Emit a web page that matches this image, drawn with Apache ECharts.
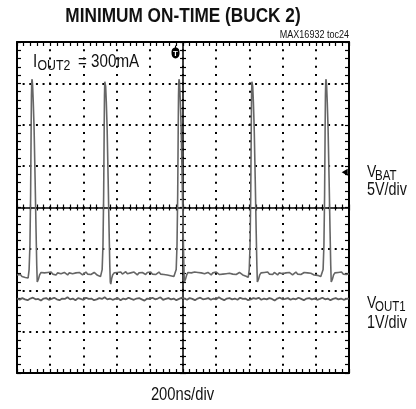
<!DOCTYPE html>
<html><head><meta charset="utf-8">
<script src="https://cdn.jsdelivr.net/npm/echarts@6/dist/echarts.min.js"></script>
<style>html,body{margin:0;padding:0;background:#fff}#c{width:416px;height:409px}</style>
</head><body><div id="c"></div>
<script>
// ---- axis ranges (time in ns, 200 ns/div; vertical in divisions, centre = 0) ----
const xMinNs = -1000, xMaxNs = 1000, nsPerDiv = 200;
const yMinDiv = -4, yMaxDiv = 4;

// ---- texts ----
const titleText = 'MINIMUM ON-TIME (BUCK 2)';
const tocText = 'MAX16932 toc24';
const timebaseText = '200ns/div';

// ---- VBAT / switching trace: [time ns, divisions] ----
const vbatTrace = [
 [-1000,-1.63],[-990,-1.66],[-980,-1.62],[-970,-1.67],[-960,-1.64],[-950,-1.69],[-940,-1.66],[-933,-1.70],
 [-930,-1.66],[-927,-1.5],[-922,-0.9],[-918,0.3],[-915,1.8],[-913,2.7],[-911,3.05],[-909,3.1],[-906,2.95],[-902,2.55],[-897,1.9],[-891,0.7],[-885,-0.6],[-881,-1.4],[-878,-1.8],[-875,-1.84],[-870,-1.72],[-864,-1.63],
 [-855,-1.57],[-845,-1.61],[-835,-1.58],[-825,-1.62],[-815,-1.57],[-805,-1.60],[-795,-1.56],[-785,-1.61],[-775,-1.58],[-765,-1.63],[-755,-1.58],[-745,-1.55],[-735,-1.60],[-725,-1.62],[-715,-1.57],[-705,-1.60],[-695,-1.63],[-685,-1.58],[-675,-1.55],[-665,-1.60],[-655,-1.62],[-645,-1.58],[-635,-1.61],[-625,-1.57],[-615,-1.60],[-605,-1.63],[-595,-1.59],[-585,-1.56],[-575,-1.61],[-565,-1.58],[-555,-1.62],[-545,-1.60],[-535,-1.57],[-525,-1.61],[-515,-1.64],[-505,-1.62],[-497,-1.67],[-493,-1.69],
 [-490,-1.66],[-487,-1.5],[-482,-0.9],[-478,0.3],[-475,1.8],[-473,2.7],[-471,3.04],[-469,3.08],[-466,2.93],[-462,2.55],[-457,1.9],[-451,0.7],[-445,-0.6],[-441,-1.4],[-438,-1.8],[-435,-1.85],[-430,-1.72],[-424,-1.63],
 [-415,-1.58],[-405,-1.62],[-395,-1.57],[-385,-1.60],[-375,-1.56],[-365,-1.61],[-355,-1.59],[-345,-1.55],[-335,-1.60],[-325,-1.62],[-315,-1.58],[-305,-1.61],[-295,-1.56],[-285,-1.60],[-275,-1.63],[-265,-1.58],[-255,-1.61],[-245,-1.57],[-235,-1.59],[-225,-1.62],[-215,-1.57],[-205,-1.60],[-195,-1.56],[-185,-1.61],[-175,-1.58],[-165,-1.62],[-155,-1.59],[-145,-1.56],[-135,-1.61],[-125,-1.58],[-115,-1.62],[-105,-1.60],[-95,-1.63],[-85,-1.61],[-75,-1.65],[-65,-1.63],[-55,-1.67],[-47,-1.69],
 [-44,-1.66],[-41,-1.5],[-36,-0.9],[-32,0.3],[-29,1.8],[-27,2.7],[-25,3.05],[-23,3.1],[-20,2.95],[-16,2.55],[-11,1.9],[-5,0.7],[1,-0.6],[5,-1.4],[8,-1.8],[11,-1.83],[16,-1.72],[22,-1.63],
 [30,-1.57],[40,-1.61],[50,-1.58],[60,-1.62],[70,-1.56],[80,-1.60],[90,-1.57],[100,-1.61],[110,-1.58],[120,-1.55],[130,-1.60],[140,-1.62],[150,-1.57],[160,-1.60],[170,-1.63],[180,-1.58],[190,-1.61],[200,-1.56],[210,-1.60],[220,-1.62],[230,-1.58],[240,-1.61],[250,-1.57],[260,-1.60],[270,-1.63],[280,-1.59],[290,-1.56],[300,-1.61],[310,-1.58],[320,-1.62],[330,-1.60],[340,-1.57],[350,-1.61],[360,-1.63],[370,-1.62],[380,-1.66],[389,-1.68],[393,-1.69],
 [396,-1.66],[399,-1.5],[404,-0.9],[408,0.3],[411,1.8],[413,2.7],[415,3.04],[417,3.08],[420,2.93],[424,2.55],[429,1.9],[435,0.7],[441,-0.6],[445,-1.4],[448,-1.8],[451,-1.84],[456,-1.72],[462,-1.63],
 [470,-1.58],[480,-1.62],[490,-1.57],[500,-1.60],[510,-1.56],[520,-1.61],[530,-1.58],[540,-1.62],[550,-1.57],[560,-1.60],[570,-1.63],[580,-1.58],[590,-1.55],[600,-1.60],[610,-1.62],[620,-1.58],[630,-1.61],[640,-1.57],[650,-1.60],[660,-1.63],[670,-1.59],[680,-1.56],[690,-1.61],[700,-1.58],[710,-1.62],[720,-1.60],[730,-1.57],[740,-1.61],[750,-1.58],[760,-1.62],[770,-1.59],[780,-1.61],[790,-1.63],[800,-1.61],[810,-1.64],[820,-1.63],[830,-1.67],[838,-1.69],
 [841,-1.66],[844,-1.5],[849,-0.9],[853,0.3],[856,1.8],[858,2.7],[860,3.05],[862,3.1],[865,2.95],[869,2.55],[874,1.9],[880,0.7],[886,-0.6],[890,-1.4],[893,-1.8],[896,-1.83],[901,-1.72],[907,-1.63],
 [915,-1.58],[925,-1.62],[935,-1.57],[945,-1.60],[955,-1.56],[965,-1.61],[975,-1.58],[985,-1.62],[995,-1.59],[1000,-1.60]
];

// ---- VOUT1 trace: samples every 16 ns starting at -1000 ns (divisions) ----
const vout1StartNs = -1000, vout1StepNs = 16;
const vout1Values = [
 -2.20,-2.23,-2.19,-2.22,-2.24,-2.20,-2.18,-2.22,-2.21,-2.25,-2.20,-2.19,-2.23,-2.21,-2.18,-2.22,-2.24,-2.20,-2.21,-2.17,
 -2.22,-2.20,-2.24,-2.19,-2.21,-2.23,-2.18,-2.21,-2.20,-2.24,-2.22,-2.19,-2.21,-2.17,-2.22,-2.20,-2.23,-2.21,-2.19,-2.24,
 -2.20,-2.22,-2.18,-2.21,-2.23,-2.20,-2.19,-2.22,-2.25,-2.20,-2.21,-2.18,-2.22,-2.20,-2.17,-2.23,-2.21,-2.19,-2.22,-2.20,
 -2.24,-2.21,-2.18,-2.20,-2.23,-2.19,-2.21,-2.24,-2.20,-2.18,-2.22,-2.21,-2.19,-2.23,-2.20,-2.22,-2.17,-2.21,-2.24,-2.20,
 -2.19,-2.22,-2.20,-2.23,-2.18,-2.21,-2.20,-2.24,-2.22,-2.19,-2.21,-2.18,-2.23,-2.20,-2.22,-2.19,-2.21,-2.25,-2.20,-2.18,
 -2.22,-2.21,-2.19,-2.23,-2.20,-2.22,-2.18,-2.21,-2.24,-2.20,-2.19,-2.22,-2.20,-2.23,-2.21,-2.18,-2.22,-2.20,-2.24,-2.21,
 -2.19,-2.22,-2.20,-2.23,-2.21,-2.20
];

// ---- markers (trigger point, VBAT ground reference) ----
const triggerMarker = [-45, 3.76];
const vbatGroundMarker = [974, 0.85];

const FONT = '"Liberation Sans", Arial, sans-serif';
const NARROW = 0.82;

const vout1Trace = vout1Values.map((v, i) => [vout1StartNs + i * vout1StepNs, v]);

// plot rectangle (screen px) and derived helper grids for the frame / centre cross
const PL = 17, PT = 42, PW = 332, PH = 331;
const grids = [
  { left: PL, top: PT, width: PW, height: PH },            // 0 main
  { left: PL, top: 0, width: PW, height: PT },              // 1 top border (axis on its bottom edge)
  { left: PL + PW, top: PT, width: 40, height: PH },        // 2 right border (axis on its left edge)
  { left: PL, top: PT, width: PW, height: PH / 2 },         // 3 centre horizontal
  { left: PL, top: PT, width: PW, height: PH / 2 },         // 4 centre horizontal (downward ticks)
  { left: PL + PW / 2, top: PT, width: PW / 2, height: PH },// 5 centre vertical
  { left: PL + PW / 2, top: PT, width: PW / 2, height: PH } // 6 centre vertical (rightward ticks)
];

const tickStyle = { color: '#000', width: 1.2 };
const lineBorder = { show: true, onZero: false, lineStyle: { color: '#000', width: 2 } };
const lineCentre = { show: true, onZero: false, lineStyle: { color: '#000', width: 1.5 } };
const lineNone = { show: false, onZero: false };

function ticks(inside, len) { return { show: true, inside: inside, length: len, lineStyle: tickStyle }; }
function minor(len) { return { show: true, splitNumber: 5, length: len, lineStyle: tickStyle }; }

function xAx(g, axisLine, inside, len, extra) {
  return Object.assign({
    type: 'value', gridIndex: g, position: 'bottom', min: xMinNs, max: xMaxNs, interval: nsPerDiv,
    axisLabel: { show: false }, splitLine: { show: false },
    axisLine: axisLine, axisTick: ticks(inside, len), minorTick: minor(len)
  }, extra || {});
}
function yAx(g, axisLine, inside, len, extra) {
  return Object.assign({
    type: 'value', gridIndex: g, position: 'left', min: yMinDiv, max: yMaxDiv, interval: 1,
    axisLabel: { show: false }, splitLine: { show: false },
    axisLine: axisLine, axisTick: ticks(inside, len), minorTick: minor(len)
  }, extra || {});
}
function hiddenX(g) { return { type: 'value', gridIndex: g, show: false, min: xMinNs, max: xMaxNs }; }
function hiddenY(g) { return { type: 'value', gridIndex: g, show: false, min: yMinDiv, max: yMaxDiv }; }
function helper(i) { return { type: 'line', xAxisIndex: i, yAxisIndex: i, data: [], silent: true, showSymbol: false }; }

function txt(x, y, text, size, opts) {
  opts = opts || {};
  return {
    type: 'text', x: x, y: y, scaleX: opts.scaleX == null ? NARROW : opts.scaleX, z: 100,
    style: {
      text: text, x: 0, y: 0, fill: '#111',
      font: (opts.bold ? 'bold ' : '') + size + 'px ' + FONT,
      align: opts.align || 'left', verticalAlign: 'middle'
    }
  };
}

const chart = echarts.init(document.getElementById('c'), null, { renderer: 'canvas' });
chart.setOption({
  animation: false,
  backgroundColor: '#fff',
  grid: grids.map(g => Object.assign({ containLabel: false }, g)),
  xAxis: [
    xAx(0, lineBorder, true, 4, { splitLine: { show: true, lineStyle: { color: '#000', width: 2, type: [2, 6.275], dashOffset: 1 } } }),
    xAx(1, lineBorder, false, 4),
    hiddenX(2),
    xAx(3, lineCentre, true, 3),
    xAx(4, lineNone, false, 3),
    hiddenX(5),
    hiddenX(6)
  ],
  yAxis: [
    yAx(0, lineBorder, true, 4, { splitLine: { show: true, lineStyle: { color: '#000', width: 2, type: [2, 4.64], dashOffset: 1 } } }),
    hiddenY(1),
    yAx(2, lineBorder, false, 4),
    hiddenY(3),
    hiddenY(4),
    yAx(5, lineCentre, false, 3),
    yAx(6, lineNone, true, 3)
  ],
  series: [
    helper(1), helper(2), helper(3), helper(4), helper(5), helper(6),
    {
      name: 'VOUT1', type: 'line', data: vout1Trace, showSymbol: false, symbol: 'none',
      lineStyle: { color: '#5e5e5e', width: 1.8 }, z: 5
    },
    {
      name: 'VBAT', type: 'line', data: vbatTrace, showSymbol: false, symbol: 'none',
      lineStyle: { color: '#666', width: 1.6 }, z: 6
    },
    {
      name: 'markers', type: 'scatter', z: 20, silent: true, clip: false,
      data: [
        { value: triggerMarker,
          symbol: 'path://M3,0 L4,0 L4,2 C6.5,2.6 7,4 7,7 C7,10 5.6,12 3.5,12 C1.4,12 0,10 0,7 C0,4 0.5,2.6 3,2 Z',
          symbolSize: [8, 13], symbolKeepAspect: false, itemStyle: { color: '#000', opacity: 1 },
          label: { show: true, position: 'inside', formatter: 'T', color: '#fff', fontSize: 8, fontWeight: 'bold', fontFamily: FONT, offset: [0, 1.5] } },
        { value: vbatGroundMarker, symbol: 'triangle', symbolRotate: 90, symbolSize: [7, 6], itemStyle: { color: '#000', opacity: 1 },
          label: { show: false } }
      ]
    }
  ],
  graphic: [
    txt(183, 16.5, titleText, 21, { bold: true, align: 'center' }),
    txt(349, 34.5, tocText, 11, { align: 'right' }),
    txt(33, 61.7, 'I', 18.5),
    txt(37.5, 65.5, 'OUT2', 15),
    txt(78, 61.7, '= 300mA', 18.5),
    txt(367, 172.5, 'V', 17),
    txt(375, 176.5, 'BAT', 14),
    txt(367, 190.5, '5V/div', 17.5),
    txt(367, 303.5, 'V', 17),
    txt(375, 307.5, 'OUT1', 14),
    txt(367, 323.5, '1V/div', 17.5),
    txt(182.5, 395.5, timebaseText, 18, { align: 'center' })
  ]
});
</script></body></html>
